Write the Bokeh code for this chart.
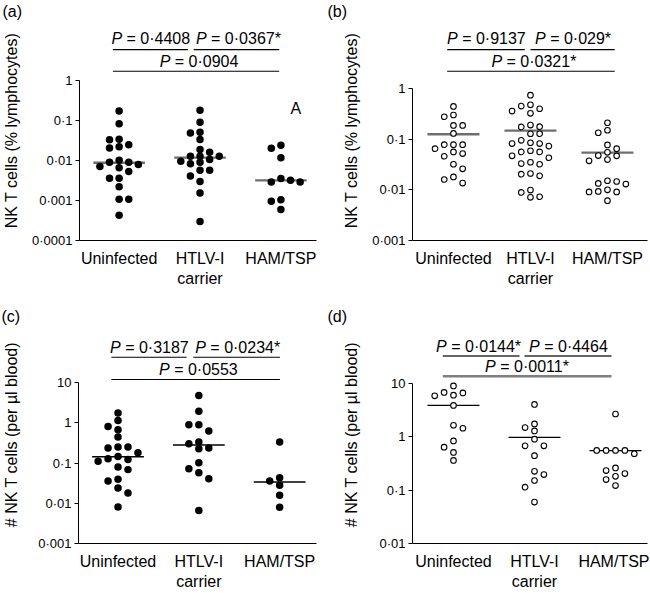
import numpy as np
from bokeh.plotting import figure
from bokeh.layouts import column, row
from bokeh.models import Range1d, FixedTicker, Label
from bokeh.embed import file_html
from bokeh.resources import INLINE

FONT = "Liberation Sans"

categories = ["Uninfected", "HTLV-I\ncarrier", "HAM/TSP"]

# ---------------- panel (a): NK T cells, % lymphocytes ----------------
a_uninfected = [0.174, 0.0825, 0.0341, 0.0329, 0.0247, 0.022, 0.0207, 0.0102, 0.0091, 0.0091,
                0.0079, 0.0071, 0.0066, 0.0053, 0.0036, 0.0036, 0.0022, 0.00108, 0.00108, 0.00043]
a_carrier = [0.181, 0.091, 0.051, 0.049, 0.0335, 0.0188, 0.016, 0.0128, 0.0128, 0.0128,
             0.0106, 0.0096, 0.0091, 0.0083, 0.0057, 0.0057, 0.0041, 0.0030, 0.00155, 0.0003]
a_hamtsp = [0.0242, 0.0204, 0.0117, 0.00355, 0.0032, 0.0029, 0.0029, 0.00104, 0.00096, 0.0006]
a_centre = [0.0088, 0.0118, 0.0032]
a_pvalues = ["0\u00b74408", "0\u00b70367*", "0\u00b70904"]
a_yticks = [0.0001, 0.001, 0.01, 0.1, 1.0]
a_ytick_labels = ["0\u00b70001", "0\u00b7001", "0\u00b701", "0\u00b71", "1"]

# ---------------- panel (b) ----------------
b_uninfected = [0.443, 0.30, 0.277, 0.187, 0.187, 0.13, 0.078, 0.078, 0.078, 0.065,
                0.056, 0.052, 0.046, 0.032, 0.026, 0.018, 0.016, 0.0136]
b_carrier = [0.738, 0.476, 0.449, 0.398, 0.358, 0.323, 0.19, 0.176, 0.174, 0.128, 0.128,
             0.095, 0.085, 0.082, 0.082, 0.073, 0.059, 0.056, 0.056, 0.047, 0.043,
             0.035, 0.033, 0.032, 0.021, 0.0204, 0.0189, 0.0099, 0.0089, 0.0073, 0.0071]
b_hamtsp = [0.211, 0.15, 0.134, 0.077, 0.065, 0.055, 0.0475, 0.0468, 0.0396, 0.0373,
            0.0151, 0.0146, 0.0134, 0.013, 0.01, 0.0093, 0.0091, 0.0091, 0.0061]
b_centre = [0.125, 0.147, 0.054]
b_pvalues = ["0\u00b79137", "0\u00b7029*", "0\u00b70321*"]
b_yticks = [0.001, 0.01, 0.1, 1.0]
b_ytick_labels = ["0\u00b7001", "0\u00b701", "0\u00b71", "1"]

# ---------------- panel (c): NK T cells per ul blood ----------------
c_uninfected = [1.76, 1.16, 0.82, 0.68, 0.446, 0.251, 0.251, 0.237, 0.182, 0.147,
                0.129, 0.124, 0.111, 0.08, 0.069, 0.04, 0.036, 0.024, 0.018, 0.0081]
c_carrier = [4.83, 1.97, 0.90, 0.90, 0.63, 0.334, 0.305, 0.237, 0.229, 0.103,
             0.073, 0.058, 0.041, 0.0066]
c_hamtsp = [0.334, 0.0436, 0.036, 0.028, 0.0158, 0.008]
c_centre = [0.145, 0.285, 0.034]
c_pvalues = ["0\u00b73187", "0\u00b70234*", "0\u00b70553"]
c_yticks = [0.001, 0.01, 0.1, 1.0, 10.0]
c_ytick_labels = ["0\u00b7001", "0\u00b701", "0\u00b71", "1", "10"]

# ---------------- panel (d) ----------------
d_uninfected = [9.0, 6.8, 6.68, 6.05, 5.87, 3.89, 1.65, 1.45, 0.84, 0.64, 0.51, 0.362]
d_carrier = [4.06, 1.75, 1.49, 1.29, 0.906, 0.68, 0.68, 0.443, 0.226, 0.196, 0.152, 0.114, 0.0598]
d_hamtsp = [2.68, 0.556, 0.556, 0.556, 0.556, 0.482, 0.261, 0.233, 0.205, 0.182, 0.158, 0.122]
d_centre = [3.9, 0.98, 0.55]
d_pvalues = ["0\u00b70144*", "0\u00b74464", "0\u00b70011*"]
d_yticks = [0.01, 0.1, 1.0, 10.0]
d_ytick_labels = ["0\u00b701", "0\u00b71", "1", "10"]

label_pct = "NK T cells (% lymphocytes)"
label_abs = "# NK T cells (per \u00b5l blood)"

# ---------------- layout / style per panel (pixels) ----------------
specs = [
    dict(title="(a)", series=[a_uninfected, a_carrier, a_hamtsp], centre=a_centre, pvals=a_pvalues,
         yticks=a_yticks, ylabels=a_ytick_labels, ylabel=label_pct, filled=True,
         W=325, H=300, fl=77, fr=316, top=19, at=79.3, ab=240, xr=(0.01, 2.94), slot=9.7,
         title_x=0, lab_standoff=9,
         pabove=(36.6, 31.0, 13.6, 9.3), tshift=(0.0, 1.5, 2.5),
         br=((0, -6.3, 1, -12.3), (1, -6.3, 2, -1.7), (0, -6.3, 2, -1.7)),
         centre_color="#6e6e6e", centre_w=2.3, extra="A"),
    dict(title="(b)", series=[b_uninfected, b_carrier, b_hamtsp], centre=b_centre, pvals=b_pvalues,
         yticks=b_yticks, ylabels=b_ytick_labels, ylabel=label_pct, filled=False,
         W=324, H=300, fl=87, fr=322, top=19, at=87.3, ab=240, xr=(-0.032, 3.02), slot=9.2,
         title_x=2, lab_standoff=9,
         pabove=(44.0, 39.0, 21.6, 17.3), tshift=(0.0, 0.0, 2.5),
         br=((0, -6.3, 1, -5.7), (1, 0.0, 2, 7.3), (0, -6.3, 2, 7.3)),
         centre_color="#6e6e6e", centre_w=2.3, extra=None),
    dict(title="(c)", series=[c_uninfected, c_carrier, c_hamtsp], centre=c_centre, pvals=c_pvalues,
         yticks=c_yticks, ylabels=c_ytick_labels, ylabel=label_abs, filled=True,
         W=325, H=292, fl=77, fr=316, top=25, at=82.3, ab=243, xr=(0.011, 2.956), slot=10.0,
         title_x=0, lab_standoff=15,
         pabove=(30.0, 25.6, 8.0, 3.3), tshift=(0.0, 0.7, 2.3),
         br=((0, -6.7, 1, -12.3), (1, -5.7, 2, 0.3), (0, -6.7, 2, 0.3)),
         centre_color="black", centre_w=1.5, extra=None),
    dict(title="(d)", series=[d_uninfected, d_carrier, d_hamtsp], centre=d_centre, pvals=d_pvalues,
         yticks=d_yticks, ylabels=d_ytick_labels, ylabel=label_abs, filled=False,
         W=324, H=292, fl=87, fr=322, top=25, at=83.3, ab=244, xr=(-0.006, 2.895), slot=9.4,
         title_x=2, lab_standoff=16,
         pabove=(31.0, 27.6, 11.0, 7.3), tshift=(-3.0, 0.0, 0.0),
         br=((0, -10.7, 1, -15.0), (1, -10.0, 2, -4.0), (0, -10.7, 2, -4.0)),
         centre_color="black", centre_w=1.3, extra=None),
]

NBSP = "\u00a0"
ADV = {" ": 0.278, NBSP: 0.278, "=": 0.584, "\u00b7": 0.278, "*": 0.389, "P": 0.667}
for _d in "0123456789":
    ADV[_d] = 0.556


def text_width(s, size):
    return sum(ADV.get(ch, 0.556) for ch in s) * size


def swarm(values, ppd, dmin, max_slot=2):
    """Beeswarm on integer slots (|slot| <= max_slot), avoiding overlap within a slot."""
    vals = np.asarray(values, dtype=float)
    order = np.argsort(-vals, kind="stable")
    placed = {}
    slots = np.zeros(len(vals))
    flip = 1
    for i in order:
        y = np.log10(vals[i]) * ppd
        cands = [0]
        for m in range(1, max_slot + 1):
            cands += [-m * flip, m * flip]
        chosen = None
        for s in cands:
            if all(abs(y - yy) >= dmin for yy in placed.get(s, [])):
                chosen = s
                break
        if chosen is None:
            gaps = [min([abs(y - yy) for yy in placed.get(s, [])] + [1e9]) for s in cands]
            chosen = cands[int(np.argmax(gaps))]
        placed.setdefault(chosen, []).append(y)
        if chosen != 0:
            flip = -flip
        slots[i] = chosen
    return slots


def make_panel(sp):
    W, H = sp["W"], sp["H"]
    fl, fr, top, at, ab = sp["fl"], sp["fr"], sp["top"], sp["at"], sp["ab"]
    y0, y1 = sp["yticks"][0], sp["yticks"][-1]
    ppd = (ab - at) / (np.log10(y1) - np.log10(y0))
    yend = y1 * 10 ** ((at - top) / ppd)
    xs, xe = sp["xr"]
    ppu = (fr - fl) / (xe - xs)

    p = figure(width=W, height=H, x_range=Range1d(xs, xe), y_range=Range1d(y0, yend),
               y_axis_type="log", output_backend="svg", toolbar_location=None,
               title=sp["title"], min_border_left=int(fl), min_border_right=int(W - fr),
               min_border_top=int(top), min_border_bottom=int(H - ab))
    p.outline_line_color = None
    p.xgrid.visible = False
    p.ygrid.visible = False
    p.background_fill_color = "white"
    p.border_fill_color = "white"

    p.title.text_font = FONT
    p.title.text_font_size = "16px"
    p.title.text_font_style = "normal"
    p.title.text_color = "black"
    p.title.align = "left"
    p.title.offset = sp["title_x"] - fl
    p.title.standoff = 1

    # y axis
    ya = p.yaxis[0]
    ya.ticker = FixedTicker(ticks=sp["yticks"], minor_ticks=[])
    ya.major_label_overrides = dict(zip(sp["yticks"], sp["ylabels"]))
    ya.bounds = (y0, y1)
    ya.axis_label = sp["ylabel"]
    ya.axis_label_text_font = FONT
    ya.axis_label_text_font_size = "16px"
    ya.axis_label_text_font_style = "normal"
    ya.axis_label_text_color = "black"
    ya.axis_label_standoff = sp["lab_standoff"]
    ya.major_label_text_font = FONT
    ya.major_label_text_font_size = "13px"
    ya.major_label_text_color = "black"
    ya.major_label_standoff = 3
    ya.major_tick_out = 4
    ya.major_tick_in = 0
    ya.minor_tick_line_color = None
    ya.axis_line_color = "black"
    ya.major_tick_line_color = "black"

    # x axis
    centers = [i + 0.5 for i in range(len(categories))]
    xa = p.xaxis[0]
    xa.ticker = FixedTicker(ticks=centers, minor_ticks=[])
    xa.major_label_overrides = dict(zip(centers, categories))
    xa.major_label_text_font = FONT
    xa.major_label_text_font_size = "16px"
    xa.major_label_text_color = "black"
    xa.major_label_standoff = 9
    xa.major_tick_line_color = None
    xa.major_tick_out = 0
    xa.major_tick_in = 0
    xa.minor_tick_line_color = None
    xa.axis_line_color = "black"

    # centre (median/mean) lines
    hw = 26.0 / ppu
    p.segment(x0=[c - hw for c in centers], x1=[c + hw for c in centers],
              y0=sp["centre"], y1=sp["centre"], line_color=sp["centre_color"],
              line_width=sp["centre_w"])

    # points
    dmin = 6.5 if sp["filled"] else 7.0
    for k, vals in enumerate(sp["series"]):
        offs = swarm(vals, ppd, dmin) * sp["slot"] / ppu
        xv = centers[k] + offs
        if sp["filled"]:
            p.scatter(x=xv, y=vals, marker="circle", size=7.5, fill_color="black",
                      line_color=None)
        else:
            p.scatter(x=xv, y=vals, marker="circle", size=5.6, fill_color="white",
                      line_color="black", line_width=1.1)

    # significance brackets and P-value texts (text placed by its cap-height middle)
    def yabove(px):
        return y1 * 10 ** (px / ppd)

    cap_mid = 0.36 * 16
    t1, l1, t2, l3 = sp["pabove"]
    line_y = [yabove(l1), yabove(l1), yabove(l3)]
    text_y = [yabove(t1 + cap_mid), yabove(t1 + cap_mid), yabove(t2 + cap_mid)]
    for j, (ca, oa, cb, ob) in enumerate(sp["br"]):
        xa0 = centers[ca] + oa / ppu
        xb0 = centers[cb] + ob / ppu
        is_d_long = sp["title"] == "(d)" and j == 2
        color = "#7f7f7f" if is_d_long else ("#333333" if sp["title"] == "(d)" else "black")
        lw = 2.5 if is_d_long else (1.4 if sp["title"] == "(d)" else 1.1)
        p.segment(x0=[xa0], x1=[xb0], y0=[line_y[j]], y1=[line_y[j]],
                  line_color=color, line_width=lw)
        rest = NBSP + "=" + NBSP + sp["pvals"][j]
        wP = text_width("P", 16)
        total = wP + text_width(rest, 16)
        xc = (xa0 + xb0) / 2
        sh = sp["tshift"][j]
        p.add_layout(Label(x=xc, y=text_y[j], x_offset=-total / 2 + sh, text="P",
                           text_font=FONT, text_font_size="16px", text_font_style="italic",
                           text_align="left", text_baseline="middle", text_color="black"))
        p.add_layout(Label(x=xc, y=text_y[j], x_offset=-total / 2 + wP + sh, text=rest,
                           text_font=FONT, text_font_size="16px", text_align="left",
                           text_baseline="middle", text_color="black"))

    if sp["extra"]:
        p.add_layout(Label(x=centers[2], y=y1 * 10 ** ((-33.7 + cap_mid) / ppd), x_offset=15,
                           text=sp["extra"], text_font=FONT, text_font_size="16px",
                           text_align="center", text_baseline="middle",
                           text_color="black"))
    return p


panels = [make_panel(s) for s in specs]
layout = column(row(panels[0], panels[1]), row(panels[2], panels[3]))

with open("out.html", "w", encoding="utf-8") as f:
    f.write(file_html(layout, INLINE))
